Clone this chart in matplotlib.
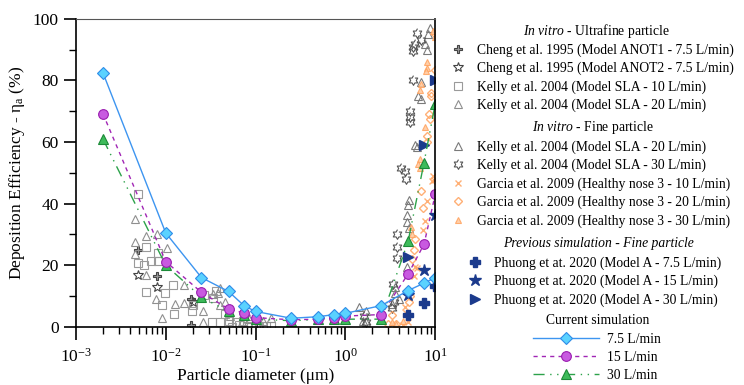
#!/usr/bin/env python3
"""
Deposition efficiency vs particle diameter: in vitro data, previous and current simulations
"""

import numpy as np
import matplotlib
matplotlib.use("Agg")
import matplotlib.pyplot as plt
from matplotlib.path import Path
from matplotlib.ticker import LogLocator, MultipleLocator, NullFormatter

plt.rcParams['font.family'] = ['Liberation Serif', 'DejaVu Serif']
plt.rcParams['mathtext.fontset'] = 'custom'
plt.rcParams['mathtext.rm'] = 'Liberation Serif'
plt.rcParams['mathtext.it'] = 'Liberation Serif:italic'

# ---- Current simulation ----
sim_d = [0.002, 0.01, 0.025, 0.05, 0.075, 0.1, 0.25, 0.5, 0.75, 1.0, 2.5, 5.0, 7.5, 10.0]
sim_75 = [82.5, 30.5, 16.0, 11.5, 6.8, 5.0, 2.8, 3.3, 4.0, 4.4, 6.9, 11.8, 14.2, 16.0]
sim_15 = [69.2, 21.2, 11.2, 5.8, 4.5, 3.0, 2.3, 2.5, 3.0, 3.5, 4.0, 17.2, 26.8, 43.0]
sim_30 = [61.0, 20.0, 9.6, 5.0, 4.0, 2.5, 2.0, 2.4, 2.5, 2.5, 2.5, 27.9, 53.3, 72.4]

# ---- Previous simulation (Phuong 2020) ----
prev_d = [5.0, 7.5, 10.0]
prev_75 = [3.9, 7.9, 13.3]
prev_15 = [10.4, 18.5, 36.4]
prev_30 = [22.8, 59.1, 80.2]

# ---- In vitro, ultrafine ----
cheng1_d = [0.0049, 0.0079, 0.019, 0.019, 0.1]
cheng1_e = [25.0, 16.5, 9.0, 0.5, 1.3]
cheng2_d = [0.0049, 0.0079, 0.020, 0.1]
cheng2_e = [16.8, 13.0, 8.0, 2.5]
kelly10_d = [0.0049, 0.0061, 0.0049, 0.0057, 0.0068, 0.0083, 0.0083, 0.0061, 0.0090, 0.0098,
             0.0121, 0.0124, 0.0197, 0.020, 0.0267, 0.034, 0.036, 0.033, 0.040, 0.046,
             0.050, 0.054, 0.060, 0.066, 0.072, 0.080, 0.090, 0.10, 0.11, 0.13, 0.15]
kelly10_e = [43.0, 26.0, 20.7, 20.0, 21.5, 24.0, 21.5, 11.3, 7.0, 11.0,
             13.5, 4.3, 5.3, 7.0, 10.3, 9.5, 11.7, 1.7, 1.7, 4.3,
             2.0, 0.0, 1.5, 0.5, 2.0, 0.3, 1.0, 0.5, 0.3, 0.2, 0.2]
kelly20u_d = [0.0046, 0.0046, 0.0046, 0.0060, 0.0060, 0.0079, 0.0104, 0.0078, 0.0090, 0.0126,
              0.0161, 0.016, 0.026, 0.026, 0.034, 0.040, 0.038, 0.040, 0.046, 0.050,
              0.052, 0.07, 0.085, 0.12, 0.15]
kelly20u_e = [35.0, 27.5, 23.5, 29.5, 17.0, 30.0, 25.5, 9.0, 3.0, 7.3,
              13.5, 7.7, 5.0, 1.5, 10.7, 12.5, 11.0, 7.0, 8.0, 5.0,
              3.5, 1.5, 2.5, 2.0, 3.0]

# ---- In vitro, fine ----
kelly20f_d = [8.8, 8.4, 8.1, 7.7, 6.9, 6.9, 6.5, 6.0, 6.3, 5.1, 5.0, 4.9, 4.9, 5.1, 4.8,
              3.6, 3.6, 3.3, 3.9, 1.43, 1.7, 1.55, 1.7]
kelly20f_e = [97.0, 95.0, 89.9, 92.0, 79.6, 74.0, 75.0, 59.0, 58.5, 41.2, 39.6, 36.4, 34.0, 32.0, 19.5,
              13.0, 11.0, 7.5, 9.0, 6.6, 5.0, 2.0, 1.5]
kelly30_d = [6.2, 5.6, 5.7, 5.9, 7.0, 5.7, 5.25, 5.25, 5.2, 4.2, 4.6, 4.7, 3.8, 3.8, 3.8,
             3.4, 3.5, 3.3, 1.7, 1.6]
kelly30_e = [95.3, 91.0, 89.5, 92.0, 93.0, 80.0, 70.0, 68.0, 66.5, 51.5, 50.5, 48.0, 30.0, 26.0, 22.5,
             14.0, 8.0, 6.0, 1.5, 3.5]
garcia10_d = [9.1, 9.4, 9.6, 8.1, 7.6, 7.4, 6.0, 5.8, 6.3, 4.6, 4.7, 5.0, 4.4]
garcia10_e = [47.2, 49.0, 47.8, 41.0, 34.5, 31.5, 19.5, 16.5, 19.0, 6.6, 4.5, 1.5, 0.5]
garcia20_d = [10.0, 8.9, 9.0, 8.5, 8.7, 8.0, 8.1, 7.0, 7.4, 6.0, 5.8, 5.5, 5.3, 5.1, 3.3, 3.0, 3.7, 10.0]
garcia20_e = [83.4, 75.9, 75.0, 69.0, 67.5, 62.0, 60.0, 44.0, 38.5, 28.5, 25.0, 22.0, 10.0, 8.0, 4.0, 1.0, 1.0, 95.0]
garcia30_d = [9.5, 10.0, 8.1, 8.1, 7.8, 7.0, 6.8, 7.7, 6.8, 6.5, 6.8, 5.4, 5.5, 3.3, 3.7, 4.4]
garcia30_e = [95.9, 94.0, 86.0, 84.0, 83.0, 79.0, 77.0, 64.8, 54.5, 53.0, 51.5, 32.5, 30.3, 1.5, 1.0, 2.0]

# hexagram marker (Kelly 30 L/min)
ang = np.pi / 2 + np.arange(12) * np.pi / 6
rad = np.where(np.arange(12) % 2 == 0, 1.0, 1 / np.sqrt(3))
hexagram = Path(np.column_stack([rad * np.cos(ang), rad * np.sin(ang)]), closed=False)

NAVY = '#1b3a8c'
ORANGE = '#ffa25e'

fig = plt.figure(figsize=(7.44, 3.85), dpi=100)
ax = fig.add_axes([0.102, 0.151, 0.483, 0.80])

# in vitro ultrafine
h_c1, = ax.plot(cheng1_d, cheng1_e, 'P', ms=6, mfc='#9a9a9a', mec='#444444', mew=0.8, ls='none',
                label='Cheng et al. 1995 (Model ANOT1 - 7.5 L/min)')
h_c2, = ax.plot(cheng2_d, cheng2_e, '*', ms=7, mfc='none', mec='#444444', mew=0.8, ls='none',
                label='Cheng et al. 1995 (Model ANOT2 - 7.5 L/min)')
h_k10, = ax.plot(kelly10_d, kelly10_e, 's', ms=5.5, mfc='none', mec='#9a9a9a', mew=0.8, ls='none',
                 label='Kelly et al. 2004 (Model SLA - 10 L/min)')
h_k20u, = ax.plot(kelly20u_d, kelly20u_e, '^', ms=6, mfc='none', mec='#8f8f8f', mew=0.8, ls='none',
                  label='Kelly et al. 2004 (Model SLA - 20 L/min)')

# in vitro fine
h_k20f, = ax.plot(kelly20f_d, kelly20f_e, '^', ms=6, mfc='none', mec='#7a7a7a', mew=0.8, ls='none',
                  label='Kelly et al. 2004 (Model SLA - 20 L/min)')
h_k30, = ax.plot(kelly30_d, kelly30_e, marker=hexagram, ms=7, mfc='none', mec='#555555', mew=0.8,
                 ls='none', label='Kelly et al. 2004 (Model SLA - 30 L/min)')
h_g10, = ax.plot(garcia10_d, garcia10_e, 'x', ms=5, mec=ORANGE, mew=1.0, ls='none', alpha=0.85,
                 label='Garcia et al. 2009 (Healthy nose 3 - 10 L/min)')
h_g20, = ax.plot(garcia20_d, garcia20_e, 'D', ms=4.5, mfc='none', mec=ORANGE, mew=1.0, ls='none',
                 alpha=0.85, label='Garcia et al. 2009 (Healthy nose 3 - 20 L/min)')
h_g30, = ax.plot(garcia30_d, garcia30_e, '^', ms=5, mfc='#ffc79a', mec=ORANGE, mew=0.8, ls='none',
                 alpha=0.85, label='Garcia et al. 2009 (Healthy nose 3 - 30 L/min)')

# previous simulation
h_p1, = ax.plot(prev_d, prev_75, 'P', ms=7, color=NAVY, ls='none',
                label='Phuong et at. 2020 (Model A - 7.5 L/min)')
h_p2, = ax.plot(prev_d, prev_15, '*', ms=9, color=NAVY, ls='none',
                label='Phuong et at. 2020 (Model A - 15 L/min)')
h_p3, = ax.plot(prev_d, prev_30, '>', ms=7, color=NAVY, ls='none',
                label='Phuong et at. 2020 (Model A - 30 L/min)')

# current simulation
h_s30, = ax.plot(sim_d, sim_30, color='#2ca24a', lw=1.0, dashes=(8, 4, 1, 4, 1, 4),
                 marker='^', ms=7, mfc='#3dbb5a', mec='#1c8a38', mew=0.8, label='30 L/min')
h_s15, = ax.plot(sim_d, sim_15, color='#a126b5', lw=1.0, dashes=(3, 3),
                 marker='o', ms=7, mfc='#c85ae0', mec='#9a1db0', mew=0.8, label='15 L/min')
h_s75, = ax.plot(sim_d, sim_75, color='#3d95f0', lw=1.0,
                 marker='D', ms=6, mfc='#5ad2ff', mec='#2f8ce8', mew=0.8, label='7.5 L/min')

ax.set_xscale('log')
ax.set_xlim(1e-3, 10)
ax.set_ylim(0, 100)
ax.xaxis.set_major_locator(LogLocator(base=10, numticks=10))
ax.xaxis.set_minor_locator(LogLocator(base=10, subs=np.arange(2, 10), numticks=20))
ax.xaxis.set_minor_formatter(NullFormatter())
ax.yaxis.set_major_locator(MultipleLocator(20))
ax.yaxis.set_minor_locator(MultipleLocator(10))
ax.tick_params(which='major', direction='out', length=9, width=1.2, labelsize=12.5, top=False, right=False)
ax.tick_params(which='minor', direction='out', length=5, width=1.0, top=False, right=False)
ax.tick_params(axis='x', which='major', pad=6)
for s in ax.spines.values():
    s.set_linewidth(1.2)
ax.spines['top'].set_color('#555555')
ax.spines['top'].set_linewidth(0.8)

ax.set_xlabel('Particle diameter (μm)', fontsize=12.5, labelpad=2)
ax.set_ylabel(r'Deposition Efficiency - $\mathregular{\eta_a}$ (%)', fontsize=12.5, labelpad=4)

# legends on the right, headers as separate texts
FS = 9.8
common = dict(frameon=False, fontsize=FS, loc='upper left', handlelength=1.0,
              handletextpad=0.9, labelspacing=0.37, borderaxespad=0, borderpad=0)
fig.legend(handles=[h_c1, h_c2, h_k10, h_k20u], bbox_to_anchor=(0.606, 0.888), **common)
fig.legend(handles=[h_k20f, h_k30, h_g10, h_g20, h_g30], bbox_to_anchor=(0.606, 0.636), **common)
fig.legend(handles=[h_p1, h_p2, h_p3], bbox_to_anchor=(0.629, 0.335), **common)
cur = dict(common)
cur.update(handlelength=4.85, handletextpad=0.6)
fig.legend(handles=[h_s75, h_s15, h_s30], bbox_to_anchor=(0.716, 0.135), **cur)

fig.text(0.801, 1 - 31 / 385, r'$\it{In\ vitro}$ - Ultrafine particle', fontsize=FS, ha='center', va='center')
fig.text(0.797, 1 - 127 / 385, r'$\it{In\ vitro}$ - Fine particle', fontsize=FS, ha='center', va='center')
fig.text(0.805, 1 - 243 / 385, 'Previous simulation - Fine particle', fontsize=FS, style='italic',
         ha='center', va='center')
fig.text(0.804, 1 - 321 / 385, 'Current simulation', fontsize=FS, ha='center', va='center')

fig.savefig('out.png', dpi=100)
